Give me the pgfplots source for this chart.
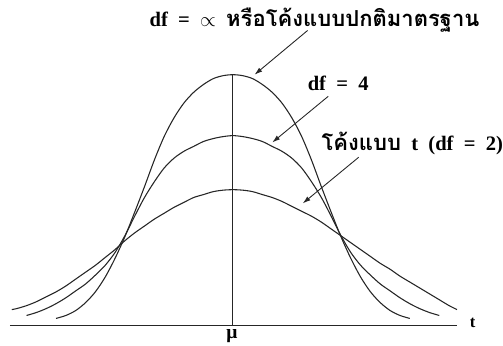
\documentclass[border=0pt]{standalone}
\usepackage{pgfplots}
\pgfplotsset{compat=1.18}
\usepackage{fontspec}
\setmainfont{Liberation Serif}
\newfontfamily\thaifont[Script=Thai]{Loma}
\usetikzlibrary{arrows.meta}
\newcommand{\thai}[1]{{\thaifont\bfseries\fontsize{22.5}{26}\selectfont #1}}
\newcommand{\gap}{\hspace{0.5em}}
\begin{document}
\begin{tikzpicture}
\begin{axis}[
  x=1bp, y=1bp,
  xmin=0, xmax=503, ymin=-21, ymax=331,
  hide axis, clip=false,
]
\path (axis cs:0,-21) rectangle (axis cs:503,331);
% baseline
\addplot[black!85, line width=1.1pt] coordinates {(10,0) (465,0)};
% vertical line at mu
\addplot[black!85, line width=1.1pt] coordinates {(237,0) (237,255)};
% normal curve (df = infinity)
\addplot[black!85, line width=1.1pt, smooth] coordinates {
 (57,7) (67,10) (77,15) (87,23) (97,34) (107,49) (117,68) (127,90) (137,115)
 (147,141) (157,168) (167,192) (177,211) (187,226) (197,237) (207,245)
 (217,251) (227,254) (237,255) (247,254) (257,251) (267,245) (277,237)
 (287,226) (297,211) (307,192) (317,168) (327,141) (337,115) (347,90)
 (357,68) (367,49) (377,34) (387,23) (397,15) (407,10) (417,7)};
% t, df = 4
\addplot[black!85, line width=1.1pt, smooth] coordinates {
 (27,10) (37,13) (47,17) (57,22) (67,28) (77,35) (87,42) (97,51) (107,61)
 (117,74) (127,91) (137,111) (147,130) (157,146) (167,160) (177,170)
 (187,177) (197,182) (207,187) (217,190) (227,192) (237,193) (247,192)
 (257,190) (267,187) (277,182) (287,177) (297,170) (307,160) (317,146)
 (327,130) (337,111) (347,91) (357,74) (367,61) (377,51) (387,42) (397,35)
 (407,28) (417,22) (427,17) (437,13) (447,10)};
% t, df = 2
\addplot[black!85, line width=1.1pt, smooth] coordinates {
 (12,16) (17,17) (27,20) (37,24) (47,29) (57,34) (67,40) (77,47) (87,54)
 (97,61) (107,69) (117,77) (127,86) (137,94) (147,101) (157,108) (167,114)
 (177,120) (187,125) (197,130) (207,133) (217,136) (227,137.5) (237,138)
 (247,137.5) (257,136) (267,133) (277,130) (287,126) (297,121) (307,116)
 (317,111) (327,105) (337,98) (347,91) (357,84) (367,77) (377,70) (387,63)
 (397,57) (407,50) (417,44) (427,38) (437,32) (447,26) (457,20) (465,16)};
% labels and arrows
\node[anchor=base west, inner sep=0pt, font=\bfseries\fontsize{21}{24}\selectfont] at (axis cs:152,304)
  {df\gap=\gap$\propto$\gap\thai{หรือโค้งแบบปกติมาตรฐาน}};
\draw[black!85, line width=0.9pt, -{Latex[length=8pt,width=5pt]}] (axis cs:313,300) -- (axis cs:259,255);
\node[anchor=base west, inner sep=0pt, font=\bfseries\fontsize{21}{24}\selectfont] at (axis cs:313,239) {df\gap=\gap4};
\draw[black!85, line width=0.9pt, -{Latex[length=8pt,width=5pt]}] (axis cs:334,233) -- (axis cs:277,186);
\node[anchor=base west, inner sep=0pt, font=\bfseries\fontsize{21}{24}\selectfont] at (axis cs:327,178)
  {\thai{โค้งแบบ}\gap t\gap(df\gap=\gap2)};
\draw[black!85, line width=0.9pt, -{Latex[length=8pt,width=5pt]}] (axis cs:365,171) -- (axis cs:308,124);
\node[anchor=base, inner sep=0pt, font=\bfseries\fontsize{17}{20}\selectfont] at (axis cs:481,-2) {t};
\node[anchor=base, inner sep=0pt, font=\bfseries\fontsize{20}{22}\selectfont] at (axis cs:236,-13) {μ};
\end{axis}
\end{tikzpicture}
\end{document}
